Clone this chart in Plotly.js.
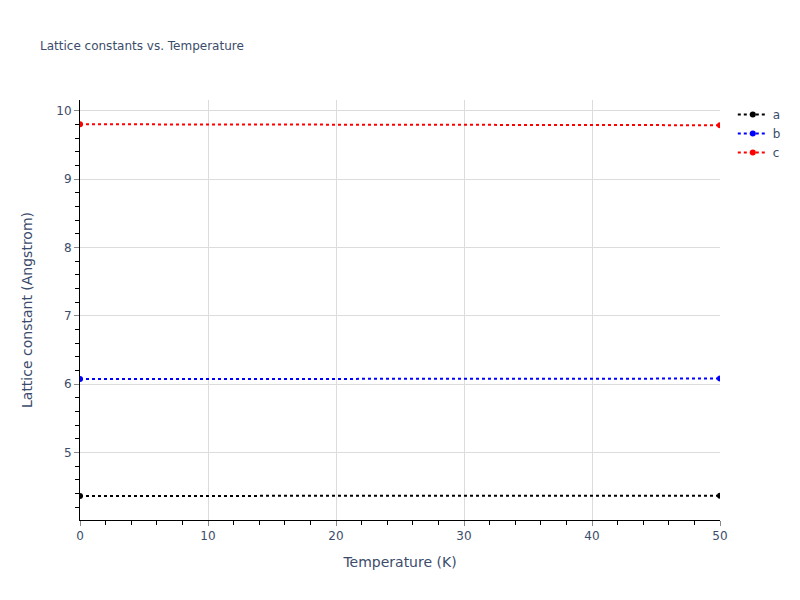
<!DOCTYPE html>
<html>
<head>
<meta charset="utf-8">
<script src="https://cdn.plot.ly/plotly-3.0.1.min.js"></script>
<style>body{margin:0;} #chart{width:800px;height:600px;}</style>
</head>
<body>
<div id="chart"></div>
<script>
// temperature points (K)
var temps = [0, 50];
// lattice constants (Angstrom)
var aVals = [4.362, 4.366];
var bVals = [6.072, 6.080];
var cVals = [9.802, 9.788];
var names = ['a', 'b', 'c'];
var colors = ['black', 'blue', 'red'];

var series = [aVals, bVals, cVals];
var data = [];
for (let i = 0; i < series.length; i++) {
  data.push({
    x: temps,
    y: series[i],
    name: names[i],
    mode: 'lines+markers',
    type: 'scatter',
    line: {color: colors[i], dash: 'dot', width: 2},
    marker: {color: colors[i], size: 6}
  });
}

var axisStyle = {
  showline: true,
  linecolor: 'black',
  linewidth: 1,
  showgrid: true,
  gridcolor: '#dcdcdc',
  ticks: 'outside',
  ticklen: 5,
  tickcolor: '#888',
  zeroline: false,
  tickfont: {size: 12, color: '#3b4c6b'}
};

var layout = {
  width: 800,
  height: 600,
  font: {family: 'verdana, "DejaVu Sans", sans-serif', color: '#3b4c6b'},
  paper_bgcolor: 'white',
  plot_bgcolor: 'white',
  title: {text: 'Lattice constants vs. Temperature', x: 0.05, xanchor: 'left', font: {size: 12}},
  xaxis: Object.assign({}, axisStyle, {
    title: {text: 'Temperature (K)', font: {size: 14}, standoff: 14},
    range: [0, 50],
    dtick: 10,
    minor: {ticks: 'outside', ticklen: 4, tickcolor: 'black', dtick: 2, showgrid: false}
  }),
  yaxis: Object.assign({}, axisStyle, {
    title: {text: 'Lattice constant (Angstrom)', font: {size: 14}, standoff: 20},
    range: [4.01, 10.157],
    dtick: 1,
    minor: {ticks: 'outside', ticklen: 4, tickcolor: 'black', dtick: 0.2, showgrid: false}
  }),
  legend: {font: {size: 12}},
  margin: {l: 80, r: 80, t: 100, b: 80}
};

Plotly.newPlot('chart', data, layout, {displayModeBar: false});
</script>
</body>
</html>
